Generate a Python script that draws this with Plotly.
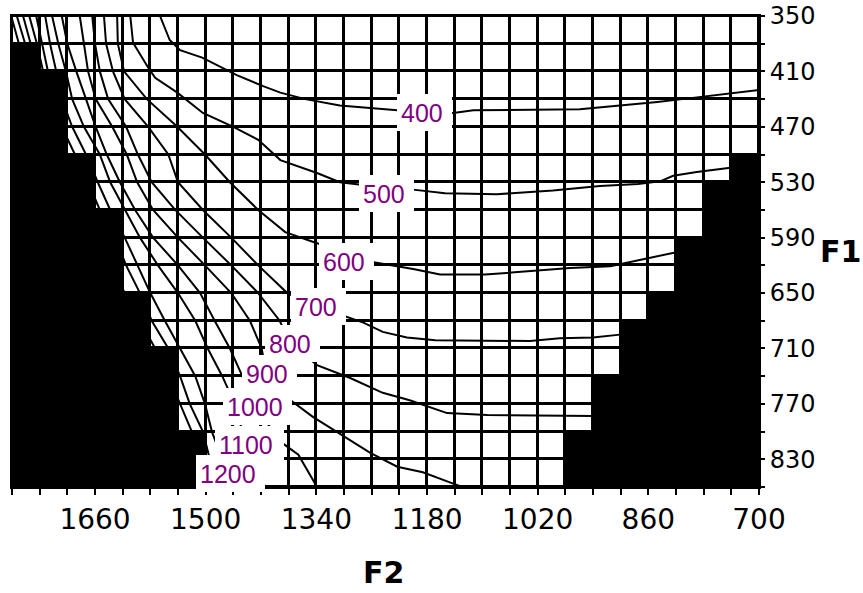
import plotly.graph_objects as go

# Cell grid: F2 cell centres (Hz, high to low) and F1 cell centres (Hz)
F2_CENTERS = [1760, 1720, 1680, 1640, 1600, 1560, 1520, 1480, 1440, 1400,
              1360, 1320, 1280, 1240, 1200, 1160, 1120, 1080, 1040, 1000,
              960, 920, 880, 840, 800, 760, 720]
F1_CENTERS = [365, 395, 425, 455, 485, 515, 545, 575, 605, 635,
              665, 695, 725, 755, 785, 815, 845]

# Cells outside the valid region, counted per F1 row from each side
LEFT_OUT = [0, 1, 2, 2, 2, 3, 3, 4, 4, 4, 5, 5, 6, 6, 6, 7, 7]
RIGHT_OUT = [0, 0, 0, 0, 0, 1, 2, 2, 3, 3, 4, 5, 5, 6, 6, 7, 7]

# F1 values of the grid row boundaries
ROW_F1 = [350, 380, 410, 440, 470, 500, 530, 560, 590, 620,
          650, 680, 710, 740, 770, 800, 830, 860]

# Iso-lines (F2, F1 pairs)
C400_F2 = [1566, 1552, 1537, 1505, 1455, 1417, 1392, 1356, 1306, 1223, 1142, 1113, 959, 884, 847, 811, 746, 700]
C400_F1 = [350, 376, 387, 395, 414, 426, 433, 440, 447, 452, 455, 452, 451, 446, 443, 440, 434, 430]

C500_F2 = [1609, 1605, 1583, 1573, 1541, 1504, 1460, 1424, 1392, 1339, 1306, 1272, 1200, 1154, 1079, 998, 930, 875, 843, 824, 790, 727]
C500_F1 = [350, 379, 406, 417, 433, 455, 470, 484, 506, 520, 530, 533, 538, 542, 543, 539, 534, 532, 529, 523, 519, 513]

C600_F2 = [1628, 1627, 1618, 1585, 1541, 1501, 1465, 1424, 1385, 1339, 1299, 1255, 1200, 1161, 1096, 973, 915, 858, 821]
C600_F1 = [350, 380, 410, 440, 470, 500, 530, 560, 584, 596, 608, 617, 624, 630, 630, 623, 621, 612, 606]

C700_F2 = [1647, 1644, 1634, 1617, 1583, 1554, 1540, 1504, 1463, 1424, 1382, 1342, 1303, 1272, 1244, 1209, 1168, 1031, 988, 940, 901]
C700_F1 = [350, 380, 410, 440, 470, 500, 530, 560, 590, 620, 650, 664, 674, 682, 692, 698, 701, 702, 699, 698, 695]

C800_F2 = [1664, 1660, 1653, 1641, 1615, 1598, 1578, 1544, 1504, 1463, 1424, 1393, 1378, 1339, 1291, 1244, 1205, 1151, 1093, 940]
C800_F1 = [350, 380, 410, 440, 470, 500, 530, 560, 590, 620, 650, 680, 704, 728, 742, 758, 766, 780, 782, 783]

C900_F2 = [1682, 1676, 1670, 1659, 1635, 1614, 1599, 1576, 1540, 1501, 1463, 1436, 1419, 1413, 1381, 1345, 1303, 1262, 1223, 1186, 1147, 1129]
C900_F1 = [350, 380, 410, 440, 470, 500, 530, 560, 590, 620, 650, 680, 710, 735, 764, 784, 804, 823, 838, 844, 855, 860]

C1000_F2 = [1708, 1700, 1687, 1673, 1659, 1643, 1624, 1602, 1576, 1540, 1508, 1487, 1465, 1447, 1430, 1390, 1366, 1339]
C1000_F1 = [350, 380, 410, 440, 470, 500, 530, 560, 590, 620, 650, 680, 710, 740, 772, 812, 825, 860]

C1100_F2 = [1722, 1713, 1702, 1693, 1676, 1653, 1638, 1617, 1595, 1569, 1540, 1515, 1497, 1476, 1458, 1442, 1424, 1414]
C1100_F1 = [350, 380, 410, 440, 470, 500, 530, 560, 590, 620, 650, 680, 710, 740, 770, 813, 842, 860]

C1200_F2 = [1732, 1725, 1716, 1708, 1693, 1673, 1656, 1638, 1617, 1599, 1580, 1559, 1537, 1515, 1501, 1491, 1469, 1459]
C1200_F1 = [350, 380, 410, 440, 470, 500, 530, 560, 590, 620, 650, 680, 710, 740, 770, 800, 844, 860]

C1300_F2 = [1745, 1737, 1728, 1718, 1708, 1689, 1670, 1653, 1631, 1615, 1595, 1578, 1554, 1537, 1523, 1504, 1494, 1487]
C1300_F1 = ROW_F1

C1400_F2 = [1755, 1744, 1735, 1725, 1718, 1703, 1685, 1670, 1653, 1635, 1617, 1595, 1573, 1554, 1537, 1520, 1505, 1497]
C1400_F1 = ROW_F1

C1500_F2 = [1764, 1753]
C1500_F1 = [350, 380]
C1600_F2 = [1773, 1761]
C1600_F1 = [350, 380]
C1700_F2 = [1780, 1770]
C1700_F1 = [353, 380]

# Labels placed on the iso-lines
LABEL_TEXT = ["400", "500", "600", "700", "800", "900", "1000", "1100", "1200"]
LABEL_F2 = [1183, 1238, 1297, 1337, 1375, 1408, 1425, 1437, 1464]
LABEL_F1 = [454, 542, 616, 665, 705, 737, 773, 814, 845]

# Valid-region mask (white cells); outside cells stay empty
z = []
for r in range(len(F1_CENTERS)):
    row = []
    for c in range(len(F2_CENTERS)):
        inside = LEFT_OUT[r] <= c < len(F2_CENTERS) - RIGHT_OUT[r]
        row.append(1 if inside else None)
    z.append(row)

fig = go.Figure()
fig.add_trace(go.Heatmap(
    x=F2_CENTERS, y=F1_CENTERS, z=z,
    colorscale=[[0, "white"], [1, "white"]], zmin=0, zmax=1,
    showscale=False, xgap=3, ygap=3, hoverinfo="skip",
))

lines = [
    (C400_F2, C400_F1), (C500_F2, C500_F1), (C600_F2, C600_F1),
    (C700_F2, C700_F1), (C800_F2, C800_F1), (C900_F2, C900_F1),
    (C1000_F2, C1000_F1), (C1100_F2, C1100_F1), (C1200_F2, C1200_F1),
    (C1300_F2, C1300_F1), (C1400_F2, C1400_F1), (C1500_F2, C1500_F1),
    (C1600_F2, C1600_F1), (C1700_F2, C1700_F1),
]
for f2, f1 in lines:
    fig.add_trace(go.Scatter(
        x=f2, y=f1, mode="lines",
        line=dict(color="black", width=2),
        hoverinfo="skip", showlegend=False,
    ))

annotations = []
for t, f2, f1 in zip(LABEL_TEXT, LABEL_F2, LABEL_F1):
    annotations.append(dict(
        x=f2, y=f1, xref="x", yref="y", text=t, showarrow=False,
        font=dict(family="Liberation Sans, Arial, sans-serif", size=25, color="#800080"),
        bgcolor="white", borderpad=4, borderwidth=0,
        width=14 * len(t) + 5, height=29, align="left", valign="middle",
        xanchor="center", yanchor="middle",
    ))

title_font = dict(family="DejaVu Sans, sans-serif", size=30, color="black", weight="bold")
annotations.append(dict(x=0.4967, y=-0.181, xref="paper", yref="paper", text="F2",
                        showarrow=False, font=title_font, xanchor="center", yanchor="middle"))
annotations.append(dict(x=1.1085, y=0.499, xref="paper", yref="paper", text="F1",
                        showarrow=False, font=title_font, xanchor="center", yanchor="middle"))

fig.update_layout(
    template="none",
    width=863, height=593,
    margin=dict(l=12, r=104, t=16, b=106, autoexpand=False),
    paper_bgcolor="white", plot_bgcolor="black",
    showlegend=False,
    annotations=annotations,
    xaxis=dict(
        range=[1780, 700], tickmode="linear", tick0=700, dtick=160,
        ticks="outside", ticklen=6, tickwidth=2, tickcolor="black",
        showgrid=False, zeroline=False, automargin=False,
        showline=True, linecolor="black", linewidth=2, mirror=True,
        tickfont=dict(family="DejaVu Sans, sans-serif", size=28, color="black"),
        minor=dict(dtick=40, tick0=700, ticks="outside", ticklen=6, tickwidth=2,
                   tickcolor="black", showgrid=False),
    ),
    yaxis=dict(
        range=[860, 350], side="right", tickmode="linear", tick0=350, dtick=60,
        ticks="outside", ticklen=4, tickwidth=2, tickcolor="black",
        showgrid=False, zeroline=False, automargin=False,
        showline=True, linecolor="black", linewidth=2, mirror=True,
        tickfont=dict(family="DejaVu Sans, sans-serif", size=24, color="black"),
        minor=dict(dtick=30, tick0=350, ticks="outside", ticklen=4, tickwidth=2,
                   tickcolor="black", showgrid=False),
    ),
)

fig.write_html("out.html")
